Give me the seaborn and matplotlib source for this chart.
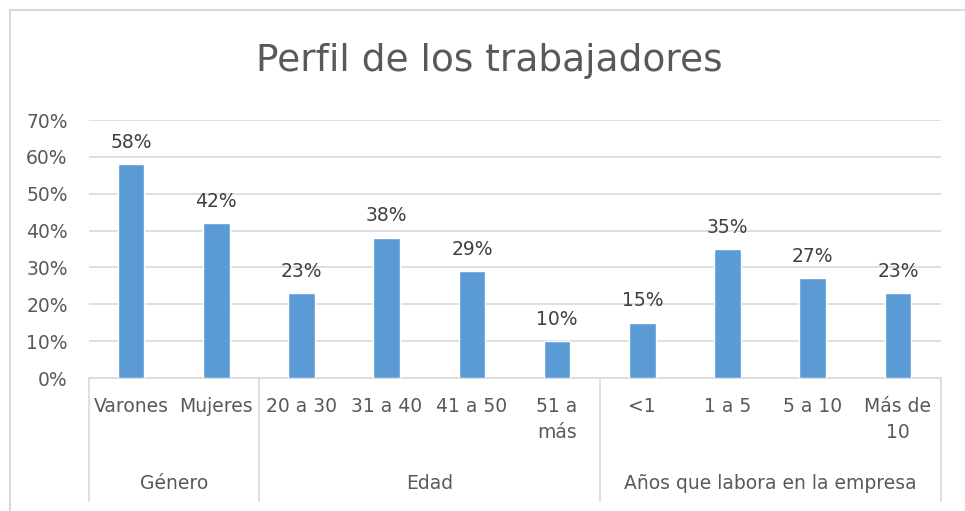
import numpy as np
import pandas as pd
import matplotlib.pyplot as plt
import seaborn as sns
from matplotlib.lines import Line2D
from matplotlib.ticker import PercentFormatter
import matplotlib.transforms as mtransforms

# datos
categorias = ["Varones", "Mujeres", "20 a 30", "31 a 40", "41 a 50", "51 a\nmás",
              "<1", "1 a 5", "5 a 10", "Más de\n10"]
valores = [0.58, 0.42, 0.23, 0.38, 0.29, 0.10, 0.15, 0.35, 0.27, 0.23]
grupos = ["Género", "Género", "Edad", "Edad", "Edad", "Edad",
          "Años que labora en la empresa", "Años que labora en la empresa",
          "Años que labora en la empresa", "Años que labora en la empresa"]

df = pd.DataFrame({"categoria": categorias, "valor": valores, "grupo": grupos})

sns.set_theme(style="white")
plt.rcParams['font.family'] = ['DejaVu Sans']

GRIS = "#595959"
LINEA = "#d9d9d9"
AZUL = "#5B9BD5"
FS = 13.5

W, H = 965, 511
fig = plt.figure(figsize=(W / 100, H / 100), dpi=100)
ax = fig.add_axes([88.5 / W, 1 - 378 / H, (940.5 - 88.5) / W, (378 - 120) / H])

sns.barplot(data=df, x="categoria", y="valor", color=AZUL, width=0.31,
            saturation=1, ax=ax, zorder=3)

ax.set_ylim(0, 0.7)
ax.set_yticks(np.arange(0, 0.71, 0.1))
ax.yaxis.set_major_formatter(PercentFormatter(1.0, decimals=0))
ax.grid(axis="y", color=LINEA, linewidth=1.2, zorder=0)
ax.set_axisbelow(True)
ax.set_xlabel("")
ax.set_ylabel("")
for s in ["top", "right", "left"]:
    ax.spines[s].set_visible(False)
ax.spines["bottom"].set_color(LINEA)
ax.spines["bottom"].set_linewidth(1.2)
ax.tick_params(axis="y", length=0, labelsize=FS, labelcolor=GRIS, pad=15)
ax.tick_params(axis="x", length=0, labelsize=FS, labelcolor=GRIS, pad=14)
for t in ax.get_xticklabels():
    t.set_verticalalignment("top")
    t.set_linespacing(1.45)

# etiquetas de datos
for c in ax.containers:
    ax.bar_label(c, labels=[f"{v:.0%}" for v in c.datavalues], padding=9,
                 fontsize=FS, color="#404040")

# separadores y etiquetas de grupo
trans = mtransforms.blended_transform_factory(ax.transData, ax.transAxes)
nombres = list(dict.fromkeys(grupos))
limites = [-0.5]
for g in nombres:
    idx = [i for i, gg in enumerate(grupos) if gg == g]
    limites.append(idx[-1] + 0.5)
    ax.text(np.mean(idx), -0.408, g, transform=trans, ha="center", va="center",
            fontsize=FS, color=GRIS)
for xb in limites:
    ax.plot([xb, xb], [0, -0.478], transform=trans, color=LINEA, linewidth=1.2,
            clip_on=False)
ax.set_xlim(-0.5, len(categorias) - 0.5)

# titulo y borde
fig.text(489 / W, 1 - 61 / H, "Perfil de los trabajadores", ha="center", va="center",
         fontsize=27, color=GRIS)
fig.add_artist(Line2D([10 / W, 10 / W], [0, 1 - 10 / H], transform=fig.transFigure,
                      color=LINEA, linewidth=1.5))
fig.add_artist(Line2D([10 / W, 1], [1 - 10 / H, 1 - 10 / H], transform=fig.transFigure,
                      color=LINEA, linewidth=1.5))

fig.savefig("out.png", dpi=100, facecolor="white")
